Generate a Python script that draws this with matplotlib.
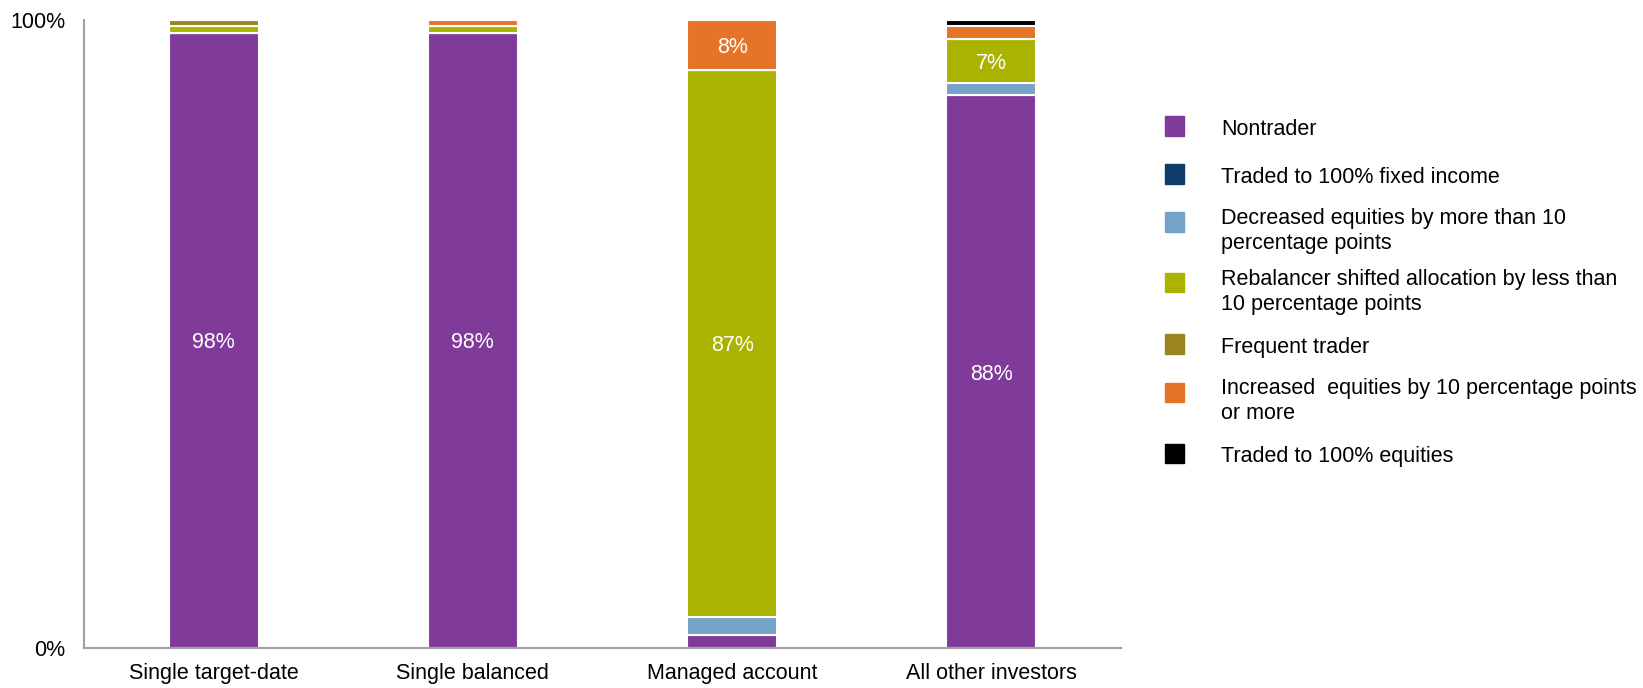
import matplotlib
matplotlib.use("Agg")
import matplotlib.pyplot as plt
from matplotlib.patches import Rectangle
import numpy as np

plt.rcParams['font.family'] = ['Liberation Sans', 'DejaVu Sans']

categories = ["Single target-date", "Single balanced", "Managed account", "All other investors"]
series_names = [
    "Nontrader",
    "Traded to 100% fixed income",
    "Decreased equities by more than 10\npercentage points",
    "Rebalancer shifted allocation by less than\n10 percentage points",
    "Frequent trader",
    "Increased  equities by 10 percentage points\nor more",
    "Traded to 100% equities",
]
nontrader = [98, 98, 2, 88]
fixed_income = [0, 0, 0, 0]
decreased = [0, 0, 3, 2]
rebalancer = [1, 1, 87, 7]
frequent = [1, 0, 0, 0]
increased = [0, 1, 8, 2]
equities100 = [0, 0, 0, 1]
series_values = [nontrader, fixed_income, decreased, rebalancer, frequent, increased, equities100]
colors = ["#7F3A9A", "#0E3D6B", "#74A3C7", "#A9B300", "#9B8320", "#E57429", "#000000"]
ytick_labels = ["0%", "100%"]

FS = 15.5
W, H = 1643, 688
fig = plt.figure(figsize=(W / 100, H / 100), dpi=100)
ax = fig.add_axes([84 / W, 1 - 648 / H, (1121 - 84) / W, (648 - 20) / H])

x = np.arange(len(categories))
bottom = np.zeros(len(categories))
for name, vals, col in zip(series_names, series_values, colors):
    vals = np.array(vals, dtype=float)
    ax.bar(x, vals, width=0.347, bottom=bottom, color=col,
           edgecolor="white", linewidth=1.5, zorder=2)
    for xi, b, v in zip(x, bottom, vals):
        if v >= 5:
            ax.text(xi, b + v / 2, f"{v:.0f}%", ha="center", va="center_baseline",
                    color="white", fontsize=FS, zorder=3)
    bottom += vals

ax.set_xlim(-0.5, 3.5)
ax.set_ylim(0, 100)
ax.set_xticks(x)
ax.set_xticklabels(categories, fontsize=FS)
ax.set_yticks([0, 100])
ax.set_yticklabels(ytick_labels, fontsize=FS)
ax.tick_params(axis="both", length=0)
ax.tick_params(axis="y", pad=13.5)
ax.tick_params(axis="x", pad=11)
for s in ["top", "right"]:
    ax.spines[s].set_visible(False)
for s in ["left", "bottom"]:
    ax.spines[s].set_color("#A0A0A0")
    ax.spines[s].set_linewidth(1.5)

# Legend (manual layout, pixel positions from top)
sq_centers = [126, 174, 222, 283, 344, 392, 453]
for name, col, yc in zip(series_names, colors, sq_centers):
    fig.patches.append(Rectangle((1165 / W, 1 - (yc + 9.5) / H), 19 / W, 19 / H,
                                 transform=fig.transFigure, color=col))
    lines = name.split("\n")
    base = yc + 9 if len(lines) == 1 else yc + 2
    for i, ln in enumerate(lines):
        fig.text(1221 / W, 1 - (base + 25 * i) / H, ln, ha="left", va="baseline",
                 fontsize=FS)

fig.savefig("out.png", dpi=100)
